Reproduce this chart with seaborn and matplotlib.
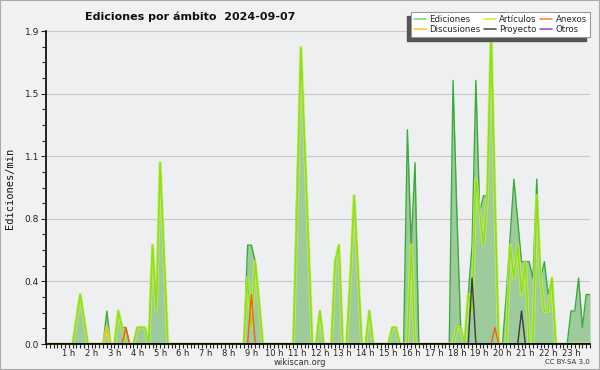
import numpy as np
import pandas as pd
import matplotlib
matplotlib.use('Agg')
import matplotlib.pyplot as plt
from matplotlib.lines import Line2D
from matplotlib.patches import Rectangle
import seaborn as sns

# ediciones por minuto, tramos de 10 min (00:00 ... 23:50), 12 tramos por fila
ediciones = [
    0, 0, 0, 0, 0, 0, 0, 0, 0.15, 0.3, 0.15, 0,
    0, 0, 0, 0, 0.2, 0, 0, 0.2, 0.1, 0.1, 0, 0,
    0.1, 0.1, 0.1, 0, 0.6, 0.2, 1.1, 0.55, 0, 0, 0, 0,
    0, 0, 0, 0, 0, 0, 0, 0, 0, 0, 0, 0,
    0, 0, 0, 0, 0, 0.6, 0.6, 0.5, 0.25, 0, 0, 0,
    0, 0, 0, 0, 0, 0, 1.0, 1.8, 1.2, 0.6, 0, 0,
    0.2, 0, 0, 0, 0.5, 0.6, 0, 0, 0.4, 0.9, 0.45, 0,
    0, 0.2, 0, 0, 0, 0, 0, 0.1, 0.1, 0, 0, 1.3,
    0.6, 1.1, 0, 0, 0, 0, 0, 0, 0, 0, 0, 1.6,
    0.8, 0.1, 0, 0.3, 0.6, 1.6, 0.8, 0.9, 0.9, 1.9, 0.95, 0,
    0, 0.3, 0.65, 1.0, 0.75, 0.5, 0.5, 0.5, 0.4, 1.0, 0.4, 0.5,
    0.3, 0.4, 0, 0, 0, 0, 0.2, 0.2, 0.4, 0.1, 0.3, 0.3,
]
articulos = [
    0, 0, 0, 0, 0, 0, 0, 0, 0.15, 0.3, 0.15, 0,
    0, 0, 0, 0, 0.1, 0, 0, 0.2, 0.1, 0, 0, 0,
    0.1, 0.1, 0.1, 0, 0.6, 0.2, 1.1, 0.55, 0, 0, 0, 0,
    0, 0, 0, 0, 0, 0, 0, 0, 0, 0, 0, 0,
    0, 0, 0, 0, 0, 0.4, 0.1, 0.5, 0.25, 0, 0, 0,
    0, 0, 0, 0, 0, 0, 0.8, 1.8, 1.2, 0.6, 0, 0,
    0.2, 0, 0, 0, 0.5, 0.6, 0, 0, 0.4, 0.9, 0.45, 0,
    0, 0.2, 0, 0, 0, 0, 0, 0.1, 0.1, 0, 0, 0,
    0.6, 0, 0, 0, 0, 0, 0, 0, 0, 0, 0, 0,
    0.1, 0.1, 0, 0.3, 0.2, 1.0, 0.8, 0.6, 0.9, 1.9, 0.85, 0,
    0, 0, 0.6, 0.4, 0.6, 0.3, 0.5, 0, 0, 0.9, 0.4, 0.2,
    0.2, 0.4, 0, 0, 0, 0, 0, 0, 0, 0, 0, 0,
]
discusiones = {'02:40': 0.1}
anexos = {'03:30': 0.1, '09:00': 0.3, '19:40': 0.1}
proyecto = {'18:40': 0.4, '20:50': 0.2}
otros = {}

line_colors = {'Ediciones': '#3caa3c', 'Artículos': '#90e010', 'Anexos': '#ff5a1a',
               'Discusiones': '#f2c21a', 'Proyecto': '#3c3c3c', 'Otros': '#8a3ee0'}
legend_colors = {'Ediciones': '#86d486', 'Artículos': '#c8f53c', 'Anexos': '#ff7f50',
                 'Discusiones': '#ffcc33', 'Proyecto': '#555555', 'Otros': '#9a4ef0'}

y_ticks = np.linspace(0, 1.9, 6)
hour_ticks = list(range(1, 24))


def to_full(points):
    vals = np.zeros(144)
    for hhmm, v in points.items():
        h, m = hhmm.split(':')
        vals[int(h) * 6 + int(m) // 10] = v
    return vals


hours = np.arange(144) / 6
df = pd.concat([
    pd.DataFrame({'hora': hours, 'valor': ediciones, 'serie': 'Ediciones'}),
    pd.DataFrame({'hora': hours, 'valor': articulos, 'serie': 'Artículos'}),
    pd.DataFrame({'hora': hours, 'valor': to_full(anexos), 'serie': 'Anexos'}),
    pd.DataFrame({'hora': hours, 'valor': to_full(discusiones), 'serie': 'Discusiones'}),
    pd.DataFrame({'hora': hours, 'valor': to_full(proyecto), 'serie': 'Proyecto'}),
    pd.DataFrame({'hora': hours, 'valor': to_full(otros), 'serie': 'Otros'}),
], ignore_index=True)

sns.set_style('ticks')
plt.rcParams['font.family'] = ['DejaVu Sans']

fig = plt.figure(figsize=(6, 3.7), dpi=100, facecolor='#f1f1f1')
ax = fig.add_axes([46 / 600, 26 / 370, 544 / 600, 313 / 370])
ax.set_facecolor('#eeeff1')

ed = df[df['serie'] == 'Ediciones']
ax.fill_between(ed['hora'], ed['valor'], color='#9ecb9c', lw=0, zorder=2)
sns.lineplot(data=ed, x='hora', y='valor', color=line_colors['Ediciones'],
             lw=1.0, ax=ax, errorbar=None, zorder=3)

art = df[df['serie'] == 'Artículos']
sns.lineplot(data=art, x='hora', y='valor', color='#c6ec70', lw=2.4, alpha=0.8,
             ax=ax, errorbar=None, zorder=4)
sns.lineplot(data=art, x='hora', y='valor', color=line_colors['Artículos'],
             lw=1.1, ax=ax, errorbar=None, zorder=4)

for name in ['Discusiones', 'Anexos', 'Proyecto', 'Otros']:
    sub = df[df['serie'] == name]
    sns.lineplot(data=sub, x='hora', y='valor', color=line_colors[name],
                 lw=1.0, ax=ax, errorbar=None, zorder=5)

ax.set_xlim(0.343, 23.72)
ax.set_ylim(0, 1.9)
ax.set_xticks(hour_ticks)
ax.set_xticklabels([f'{h} h' for h in hour_ticks])
ax.set_xticks(np.arange(0, 24, 1 / 6), minor=True)
ax.set_yticks(y_ticks)
ax.set_yticklabels([f'{v:.1f}' for v in y_ticks])
ax.set_yticks(np.linspace(0, 1.9, 21), minor=True)
ax.tick_params(axis='both', which='major', direction='out', length=3.5, width=0.8,
               labelsize=6.5, colors='#222222', pad=1.5)
ax.tick_params(axis='x', which='major', labelsize=6, pad=0.3, length=3)
ax.tick_params(axis='both', which='minor', direction='out', length=3, width=0.8,
               colors='#222222')
ax.yaxis.grid(True, color='#c9c9c9', lw=0.8)
ax.set_axisbelow(True)
ax.set_xlabel('')
ax.set_ylabel('')
for s in ['top', 'right']:
    ax.spines[s].set_visible(False)
for s in ['left', 'bottom']:
    ax.spines[s].set_color('black')
    ax.spines[s].set_linewidth(1.2)
    ax.spines[s].set_zorder(10)

fig.text(85 / 600, 1 - 17 / 370, 'Ediciones por ámbito  2024-09-07', fontsize=8,
         fontweight='bold', ha='left', va='center', color='#111111')
fig.text(10 / 600, 1 - 188 / 370, 'Ediciones/min', rotation=90, fontsize=7.5,
         family='DejaVu Sans Mono', ha='center', va='center', color='#111111')
fig.text(300 / 600, 1 - 362.5 / 370, 'wikiscan.org', fontsize=6, ha='center',
         va='center', color='#333333')
fig.text(590 / 600, 1 - 362.5 / 370, 'CC BY-SA 3.0', fontsize=5, ha='right',
         va='center', color='#333333')

order = ['Ediciones', 'Discusiones', 'Artículos', 'Proyecto', 'Anexos', 'Otros']
handles = [Line2D([], [], color=legend_colors[n], lw=1.2) for n in order]
leg = fig.legend(handles, order, loc='upper right',
                 bbox_to_anchor=(590 / 600, 1 - 12 / 370), ncol=3, fontsize=6.2,
                 frameon=True, fancybox=False, handlelength=1.4, handletextpad=0.4,
                 columnspacing=0.4, labelspacing=0.1, borderpad=0.35,
                 borderaxespad=0)
leg.get_frame().set_facecolor('white')
leg.get_frame().set_edgecolor('#999999')
leg.get_frame().set_linewidth(0.8)
leg.get_frame().set_alpha(1)

fig.canvas.draw()
bb = leg.get_window_extent().transformed(fig.transFigure.inverted())
fig.add_artist(Rectangle((bb.x0 - 4 / 600, bb.y0 - 4 / 370), bb.width, bb.height,
                         transform=fig.transFigure, color='#555555', zorder=1))
fig.add_artist(Rectangle((0, 0), 1, 1, transform=fig.transFigure, fill=False,
                         edgecolor='#aaaaaa', lw=1.5, zorder=20))

fig.savefig('out.png', dpi=100, facecolor=fig.get_facecolor())
